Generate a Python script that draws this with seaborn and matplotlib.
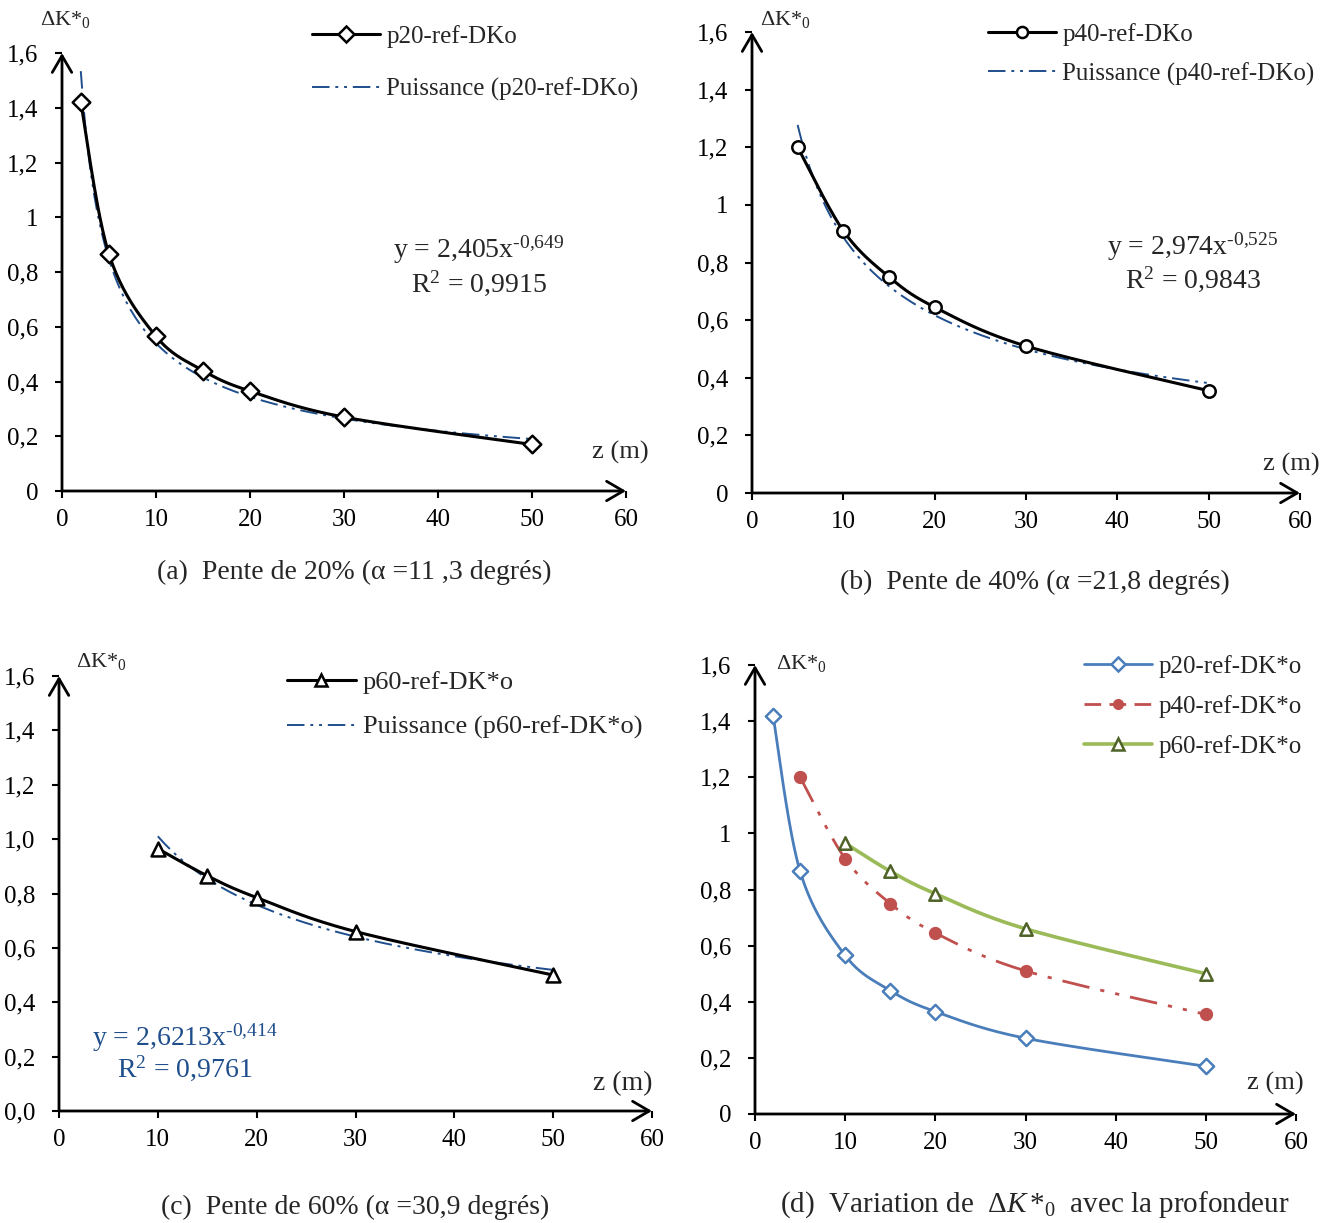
import numpy as np
import pandas as pd
import matplotlib
matplotlib.use('Agg')
import matplotlib.pyplot as plt
from matplotlib.lines import Line2D
import seaborn as sns

# data
z20 = [2, 5, 10, 15, 20, 30, 50]
dk20 = [1.42, 0.865, 0.565, 0.44, 0.365, 0.27, 0.17]
z40 = [5, 10, 15, 20, 30, 50]
dk40 = [1.2, 0.91, 0.75, 0.645, 0.51, 0.355]
z60 = [10, 15, 20, 30, 50]
dk60 = [0.965, 0.865, 0.785, 0.66, 0.5]

# power trendlines shown on the chart
fit20 = (2.405, -0.649)
fit40 = (2.974, -0.525)
fit60 = (2.6213, -0.414)

x_ticks = [0, 10, 20, 30, 40, 50, 60]
y_ticks = [0, 0.2, 0.4, 0.6, 0.8, 1.0, 1.2, 1.4, 1.6]
y_labels = ['0', '0,2', '0,4', '0,6', '0,8', '1', '1,2', '1,4', '1,6']
y_labels_c = ['0,0', '0,2', '0,4', '0,6', '0,8', '1,0', '1,2', '1,4', '1,6']

sns.set_style('white')
plt.rcParams['font.family'] = ['Liberation Serif', 'DejaVu Serif']
plt.rcParams['mathtext.fontset'] = 'custom'
plt.rcParams['mathtext.rm'] = 'Liberation Serif'
plt.rcParams['mathtext.it'] = 'Liberation Serif:italic'
plt.rcParams['mathtext.bf'] = 'Liberation Serif:bold'

W, H = 1335, 1223
FS = 18
TREND = '#1F4E8C'
TREND_LS = (0, (9, 3, 1.5, 3, 1.5, 3))


def smooth(x, y, n=40):
    # Excel-like smoothed line (Catmull-Rom through the points)
    pts = np.column_stack([x, y]).astype(float)
    P = np.vstack([pts[0], pts, pts[-1]])
    t = np.linspace(0, 1, n, endpoint=False)[:, None]
    out = []
    for i in range(1, len(P) - 2):
        p0, p1, p2, p3 = P[i - 1], P[i], P[i + 1], P[i + 2]
        seg = 0.5 * (2 * p1 + (-p0 + p2) * t + (2 * p0 - 5 * p1 + 4 * p2 - p3) * t ** 2
                     + (-p0 + 3 * p1 - 3 * p2 + p3) * t ** 3)
        out.append(seg)
    out.append(pts[-1:])
    s = np.vstack(out)
    return pd.DataFrame({'z': s[:, 0], 'dk': s[:, 1]})


def px_axes(left, right, top, bottom):
    # axes box from pixel positions of x=0..60 and y=0..1.6
    return [left / W, 1 - bottom / H, (right - left) / W, (bottom - top) / H]


def setup(ax, ylabs):
    ax.set_xlim(0, 60)
    ax.set_ylim(0, 1.6)
    for s in ax.spines.values():
        s.set_visible(False)
    ax.set_xticks(x_ticks)
    ax.set_xticklabels([str(v) for v in x_ticks])
    ax.set_yticks(y_ticks)
    ax.set_yticklabels(ylabs)
    ax.tick_params(axis='both', direction='out', length=5, width=1.5, labelsize=FS,
                   bottom=True, left=True, colors='black')
    ax.tick_params(axis='x', pad=8)
    ax.tick_params(axis='y', pad=12)
    arrow = dict(arrowstyle='->,head_length=0.6,head_width=0.35', lw=2, color='black',
                 shrinkA=0, shrinkB=0, mutation_scale=20)
    ax.annotate('', xy=(60, 0), xytext=(0, 0), arrowprops=arrow, annotation_clip=False)
    ax.annotate('', xy=(0, 1.6), xytext=(0, 0), arrowprops=arrow, annotation_clip=False)


def trend(ax, x, coef):
    xs = np.linspace(x[0], x[-1], 200)
    df = pd.DataFrame({'z': xs, 'dk': coef[0] * xs ** coef[1]})
    sns.lineplot(data=df, x='z', y='dk', ax=ax, color=TREND, lw=1.4, linestyle=TREND_LS,
                 sort=False, estimator=None, zorder=2)


def series(ax, x, y, color, marker, ms, ls='-', lw=2.2, face='white', edge=None):
    sns.lineplot(data=smooth(x, y), x='z', y='dk', ax=ax, color=color, lw=lw, linestyle=ls,
                 sort=False, estimator=None, zorder=3)
    sns.scatterplot(x=x, y=y, ax=ax, marker=marker, s=ms, facecolor=face,
                    edgecolor=edge or color, linewidth=1.8, zorder=4)


def finish(ax):
    ax.set_xlabel('')
    ax.set_ylabel('')


def figtext(x, y, s, **kw):
    fig.text(x / W, 1 - y / H, s, va='center', **kw)


fig = plt.figure(figsize=(W / 100, H / 100), dpi=100)

# (a)
ax = fig.add_axes(px_axes(62, 626, 53, 491))
setup(ax, y_labels)
trend(ax, z20, fit20)
series(ax, z20, dk20, 'black', 'D', 80)
finish(ax)
h = [Line2D([], [], color='black', lw=2.2, marker='D', mfc='white', mec='black', ms=8, mew=1.8),
     Line2D([], [], color=TREND, lw=1.4, linestyle=TREND_LS)]
ax.legend(h, ['p20-ref-DKo', 'Puissance (p20-ref-DKo)'], loc='upper left',
          bbox_to_anchor=(312 / W, 1 - 25 / H), bbox_transform=fig.transFigure, frameon=False,
          fontsize=FS, handlelength=2.7, handletextpad=0.28, labelspacing=1.2, borderpad=0,
          borderaxespad=0)
figtext(479, 250, r'y = 2,405x$^{‐0{,}649}$', ha='center', fontsize=FS + 2)
figtext(479, 283, r'R$^{2}$ = 0,9915', ha='center', fontsize=FS + 2)
figtext(620, 452, 'z (m)', ha='center', fontsize=FS + 1)
figtext(40, 20, r'ΔK*$_{0}$', ha='left', fontsize=FS - 2)
figtext(354, 572, '(a)  Pente de 20% (α =11 ,3 degrés)', ha='center', fontsize=FS + 2)

# (b)
ax = fig.add_axes(px_axes(752, 1300, 32, 493))
setup(ax, y_labels)
trend(ax, z40, fit40)
series(ax, z40, dk40, 'black', 'o', 80)
finish(ax)
h = [Line2D([], [], color='black', lw=2.2, marker='o', mfc='white', mec='black', ms=8, mew=1.8),
     Line2D([], [], color=TREND, lw=1.4, linestyle=TREND_LS)]
ax.legend(h, ['p40-ref-DKo', 'Puissance (p40-ref-DKo)'], loc='upper left',
          bbox_to_anchor=(988 / W, 1 - 23 / H), bbox_transform=fig.transFigure, frameon=False,
          fontsize=FS, handlelength=2.7, handletextpad=0.28, labelspacing=0.65, borderpad=0,
          borderaxespad=0)
figtext(1193, 247, r'y = 2,974x$^{‐0{,}525}$', ha='center', fontsize=FS + 2)
figtext(1193, 279, r'R$^{2}$ = 0,9843', ha='center', fontsize=FS + 2)
figtext(1291, 464, 'z (m)', ha='center', fontsize=FS + 1)
figtext(760, 20, r'ΔK*$_{0}$', ha='left', fontsize=FS - 2)
figtext(1035, 582, '(b)  Pente de 40% (α =21,8 degrés)', ha='center', fontsize=FS + 2)

# (c)
ax = fig.add_axes(px_axes(59, 652, 676, 1111))
setup(ax, y_labels_c)
trend(ax, z60, fit60)
series(ax, z60, dk60, 'black', '^', 100)
finish(ax)
h = [Line2D([], [], color='black', lw=2.2, marker='^', mfc='white', mec='black', ms=9, mew=1.8),
     Line2D([], [], color=TREND, lw=1.4, linestyle=TREND_LS)]
ax.legend(h, ['p60-ref-DK*o', 'Puissance (p60-ref-DK*o)'], loc='upper left',
          bbox_to_anchor=(287 / W, 1 - 671 / H), bbox_transform=fig.transFigure, frameon=False,
          fontsize=FS + 1, handlelength=2.6, handletextpad=0.28, labelspacing=0.8, borderpad=0,
          borderaxespad=0)
figtext(185, 1038, r'y = 2,6213x$^{‐0{,}414}$', ha='center', fontsize=FS + 2, color=TREND)
figtext(185, 1068, r'R$^{2}$ = 0,9761', ha='center', fontsize=FS + 2, color=TREND)
figtext(623, 1084, 'z (m)', ha='center', fontsize=FS + 2)
figtext(76, 662, r'ΔK*$_{0}$', ha='left', fontsize=FS - 2)
figtext(355, 1207, '(c)  Pente de 60% (α =30,9 degrés)', ha='center', fontsize=FS + 2)

# (d)
BLUE, RED, GREEN = '#4A7EBB', '#C0504D', '#9BBB59'
RED_LS = (0, (10, 4, 1.5, 4, 1.5, 4))
ax = fig.add_axes(px_axes(755, 1296, 665, 1114))
setup(ax, y_labels)
series(ax, z20, dk20, BLUE, 'D', 60, lw=2)
series(ax, z40, dk40, RED, 'o', 60, ls=RED_LS, lw=2, face=RED)
series(ax, z60, dk60, GREEN, '^', 80, lw=2.6, edge='#4F6228')
finish(ax)
h = [Line2D([], [], color=BLUE, lw=2, marker='D', mfc='white', mec=BLUE, ms=7, mew=1.8),
     Line2D([], [], color=RED, lw=2, linestyle=(0, (6, 3)), marker='o', mfc=RED, mec=RED, ms=7),
     Line2D([], [], color=GREEN, lw=2.6, marker='^', mfc='white', mec='#4F6228', ms=8, mew=1.8)]
ax.legend(h, ['p20-ref-DK*o', 'p40-ref-DK*o', 'p60-ref-DK*o'], loc='upper left',
          bbox_to_anchor=(1084 / W, 1 - 655 / H), bbox_transform=fig.transFigure, frameon=False,
          fontsize=FS, handlelength=2.7, handletextpad=0.28, labelspacing=0.68, borderpad=0,
          borderaxespad=0)
figtext(1275, 1083, 'z (m)', ha='center', fontsize=FS + 1)
figtext(776, 664, r'ΔK*$_{0}$', ha='left', fontsize=FS - 2)
figtext(1035, 1205, r'(d)  Variation de  $\Delta\mathit{K}\,{*}_{0}$  avec la profondeur',
        ha='center', fontsize=FS + 3)

fig.savefig('out.png', dpi=100)
